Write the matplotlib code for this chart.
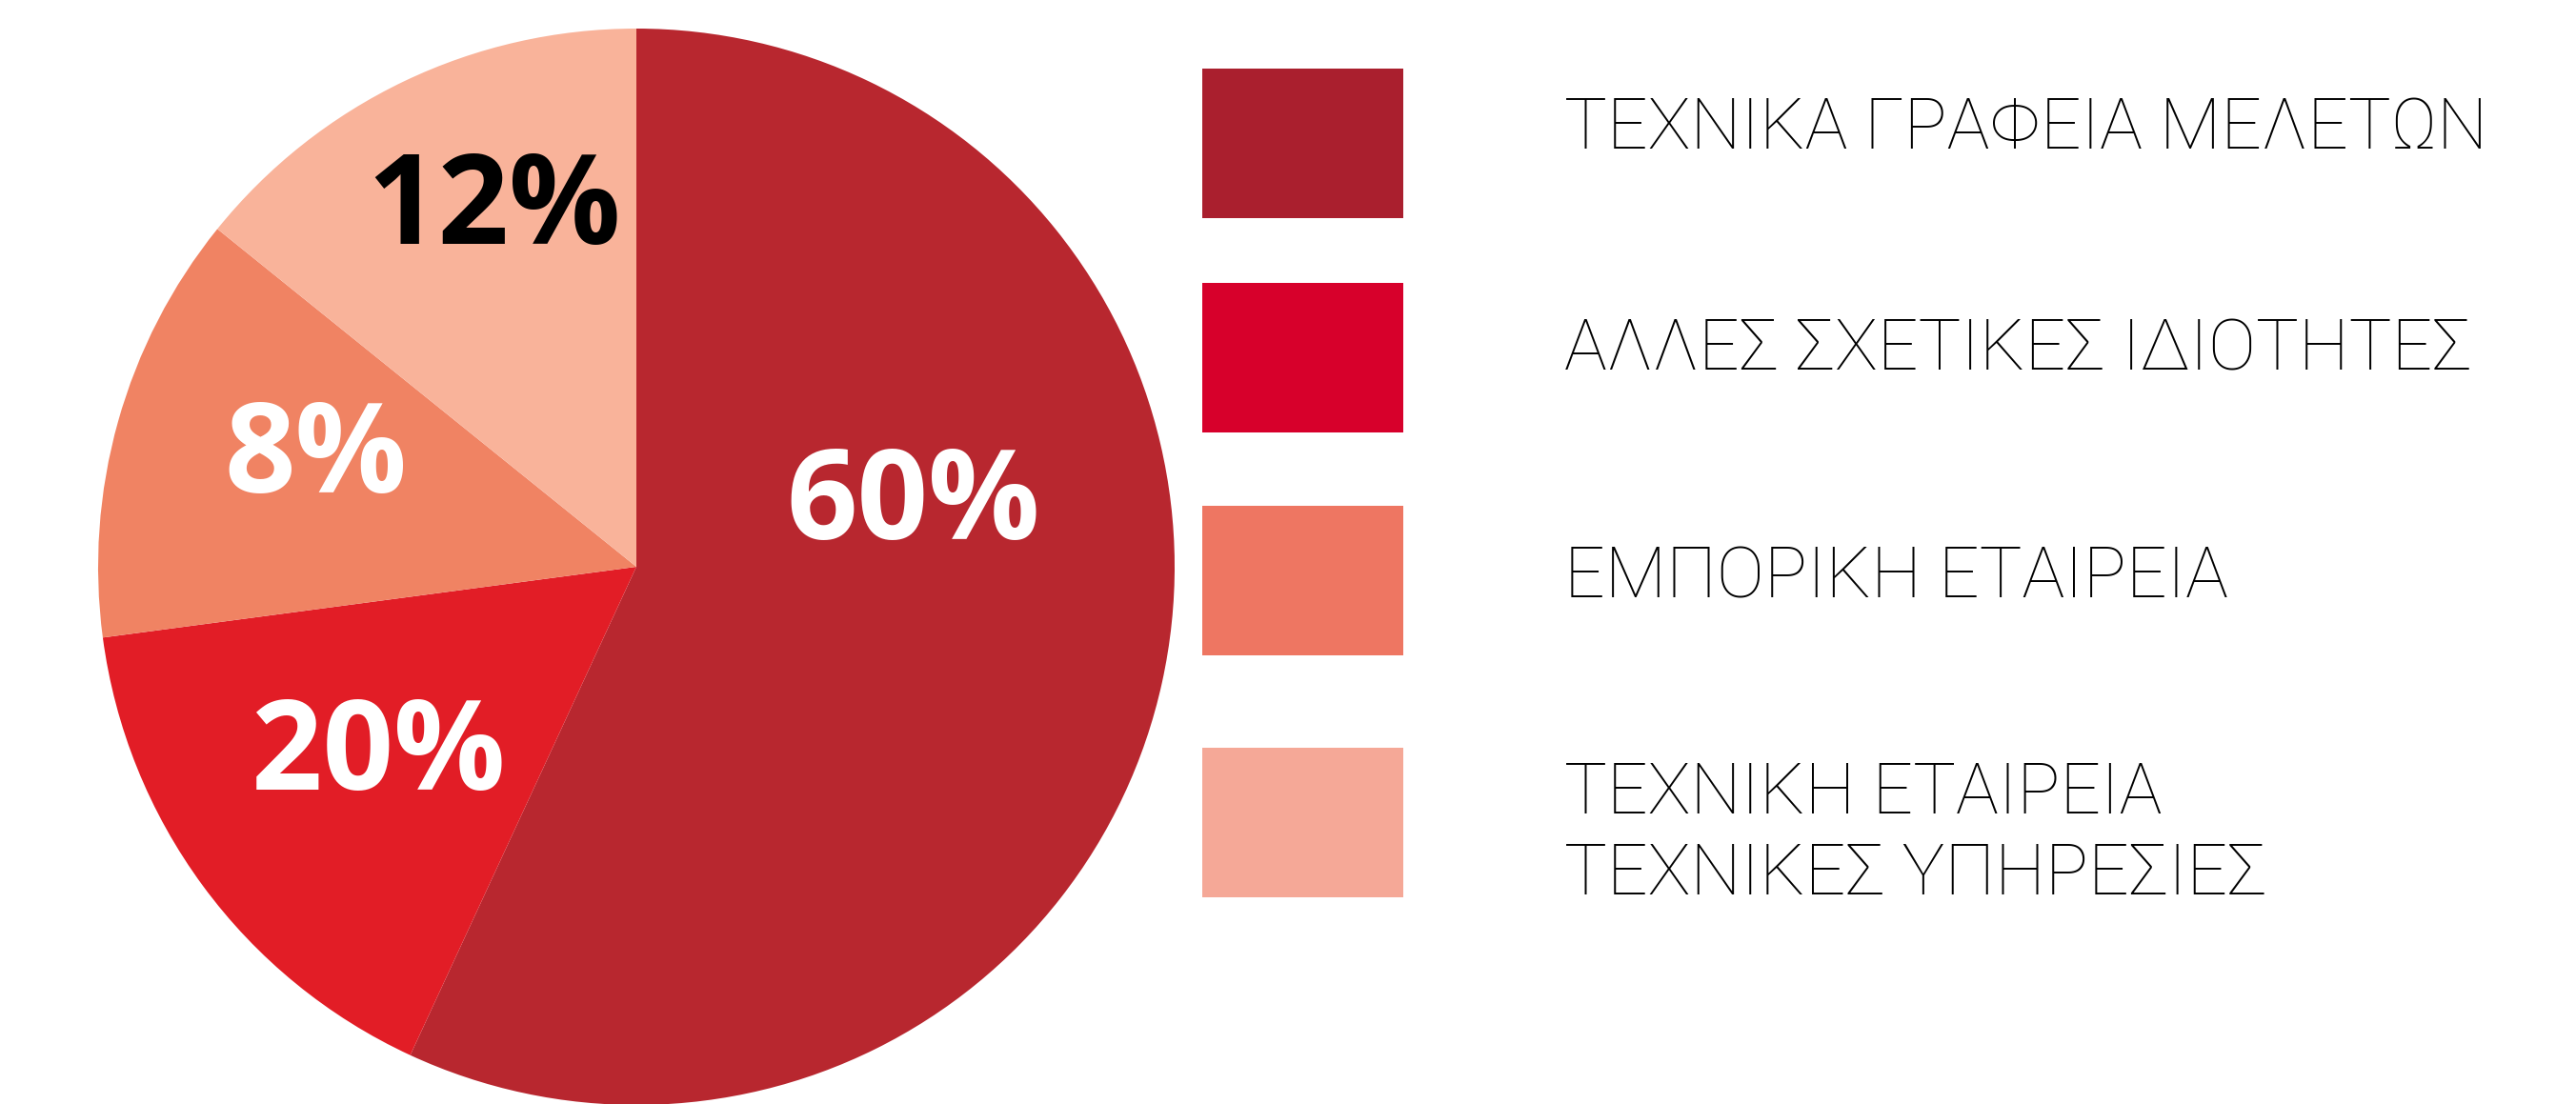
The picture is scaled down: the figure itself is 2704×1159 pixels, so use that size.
import matplotlib
matplotlib.use("Agg")
import matplotlib.pyplot as plt
from matplotlib.patches import Rectangle

# categories (legend order = wedge order, clockwise from 12 o'clock)
categories = [
    "ΤΕΧΝΙΚΑ ΓΡΑΦΕΙΑ ΜΕΛΕΤΩΝ",
    "ΑΛΛΕΣ ΣΧΕΤΙΚΕΣ ΙΔΙΟΤΗΤΕΣ",
    "ΕΜΠΟΡΙΚΗ ΕΤΑΙΡΕΙΑ",
    "ΤΕΧΝΙΚΗ ΕΤΑΙΡΕΙΑ\nΤΕΧΝΙΚΕΣ ΥΠΗΡΕΣΙΕΣ",
]
# printed percentages
pct_labels = [60, 20, 8, 12]
# the source graphic is not drawn to scale: wedge shares
wedge_share = [56.9, 16.0, 12.9, 14.2]

wedge_colors = ["#B8272F", "#E21D26", "#F08363", "#F9B39A"]
legend_colors = ["#AA1F2E", "#D7002B", "#EE7662", "#F5A897"]
pct_colors = ["white", "white", "white", "black"]

W, H = 2704, 1159
fig = plt.figure(figsize=(W / 100, H / 100), dpi=100)
ax = fig.add_axes([0, 0, 1, 1])

# pie, pixel coordinates (y measured from bottom)
cx, cy, r = 668, H - 595, 565
ax.pie(wedge_share, colors=wedge_colors, startangle=90, counterclock=False,
       center=(cx, cy), radius=r, frame=True,
       wedgeprops=dict(linewidth=0))

# percentage labels
lab_pos = [(959, 532), (397, 795), (331, 483), (519, 222)]
for (x, y), p, c in zip(lab_pos, pct_labels, pct_colors):
    ax.text(x, H - y, f"{p}%", color=c, fontsize=94, fontweight="bold",
            family="Open Sans", ha="center", va="center")

# legend
box_x, box_w, box_h = 1262, 211, 157
box_top = [72, 297, 531, 785]
text_y = [135, 368, 607, 876]
for top, ty, col, name in zip(box_top, text_y, legend_colors, categories):
    ax.add_patch(Rectangle((box_x, H - top - box_h), box_w, box_h,
                           facecolor=col, edgecolor="none"))
    ax.text(1642, H - ty, name, fontsize=54, fontweight="light", family="Roboto",
            color="black", ha="left", va="center", linespacing=1.25)

ax.set_xlim(0, W)
ax.set_ylim(0, H)
ax.set_aspect("equal")
ax.axis("off")

fig.savefig("out.png", dpi=100, facecolor="white")
